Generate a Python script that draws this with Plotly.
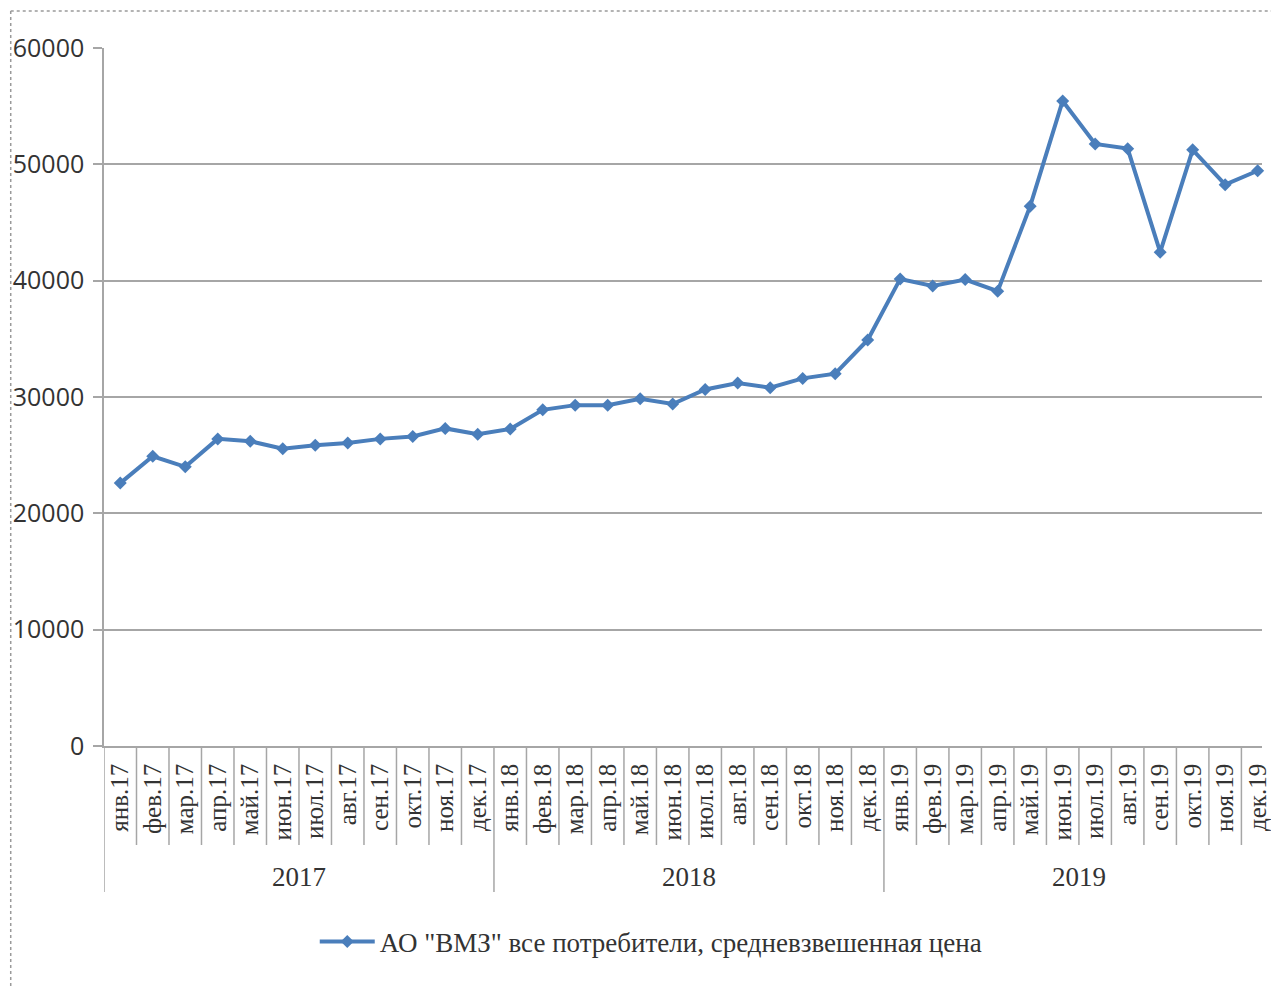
import plotly.graph_objects as go

months = ["янв", "фев", "мар", "апр", "май", "июн", "июл", "авг", "сен", "окт", "ноя", "дек"]
years = ["2017", "2018", "2019"]
month_labels = [f"{m}.{y[2:]}" for y in years for m in months]
prices = [22600, 24900, 24000, 26400, 26200, 25550, 25850, 26050, 26400, 26600, 27300, 26800,
          27250, 28900, 29300, 29300, 29850, 29400, 30650, 31200, 30800, 31600, 32000, 34900,
          40150, 39550, 40100, 39100, 46400, 55450, 51750, 51350, 42450, 51250, 48250, 49450]
series_name = 'АО "ВМЗ" все потребители, средневзвешенная цена'
y_ticks = [0, 10000, 20000, 30000, 40000, 50000, 60000]

x_idx = list(range(len(month_labels)))
BLUE = "#4A7EBB"
GRID = "#A6A6A6"
TXT = "#333333"
SERIF = "Liberation Serif"

W, H = 1271, 986
L, T, B = 104, 48, 240
R = 0
PW = W - L - R
PH = H - T - B
CAT_W = 32.75


def py(y_px):
    """reference-image y pixel -> paper coordinate"""
    return (746 - y_px) / PH


def px(x_px):
    return (x_px - 104) / PW


fig = go.Figure()
fig.add_trace(go.Scatter(
    x=x_idx, y=prices, mode="lines+markers", name=series_name,
    line=dict(color=BLUE, width=4),
    marker=dict(symbol="diamond", size=10, color=BLUE),
    cliponaxis=False,
))

shapes = []
n = len(month_labels)
for i in range(n + 1):
    b = i - 0.5
    is_year = (i % 12 == 0)
    shapes.append(dict(type="line", xref="x", yref="paper", x0=b, x1=b, y0=0,
                       y1=py(892) if is_year else py(845),
                       line=dict(color=GRID, width=1.5)))
# dotted outer border (top and left visible)
shapes.append(dict(type="line", xref="paper", yref="paper",
                   x0=px(10), x1=1.02, y0=py(11), y1=py(11),
                   line=dict(color="#9A9A9A", width=1.5, dash="dot")))
shapes.append(dict(type="line", xref="paper", yref="paper",
                   x0=px(10), x1=px(10), y0=py(11), y1=py(1000),
                   line=dict(color="#9A9A9A", width=1.5, dash="dot")))

annotations = []
for k, yr in enumerate(years):
    annotations.append(dict(x=k * 12 + 5.5, y=py(877), xref="x", yref="paper",
                            text=yr, showarrow=False, yanchor="middle",
                            font=dict(family=SERIF, size=27, color=TXT)))

fig.update_layout(
    width=W, height=H,
    margin=dict(l=L, r=R, t=T, b=B),
    paper_bgcolor="white", plot_bgcolor="white",
    showlegend=True,
    legend=dict(orientation="h", x=px(655), xanchor="center", y=py(942),
                yanchor="middle", itemwidth=55,
                font=dict(family=SERIF, size=27, color=TXT)),
    shapes=shapes, annotations=annotations,
)
fig.update_xaxes(
    range=[-0.5, -0.5 + PW / CAT_W], tickmode="array", tickvals=x_idx, ticktext=month_labels,
    tickangle=-90, tickfont=dict(family=SERIF, size=25, color=TXT),
    ticks="", showgrid=False, showline=True, linecolor=GRID, linewidth=1.5,
    ticklabelstandoff=6, ticklabeloverflow="allow", zeroline=False,
)
fig.update_yaxes(
    range=[0, 60000], tickmode="array", tickvals=y_ticks, ticktext=[str(v) for v in y_ticks],
    tickfont=dict(family="Open Sans", size=25, color=TXT),
    showgrid=True, gridcolor=GRID, gridwidth=1.5,
    showline=True, linecolor=GRID, linewidth=1.5,
    ticks="outside", ticklen=9, tickcolor=GRID, tickwidth=1.5,
    ticklabelstandoff=4, zeroline=False,
)
fig.write_html(
    "out.html",
    config={"displayModeBar": False},
    post_script="document.body.style.margin='0';document.body.style.overflow='hidden';",
)
